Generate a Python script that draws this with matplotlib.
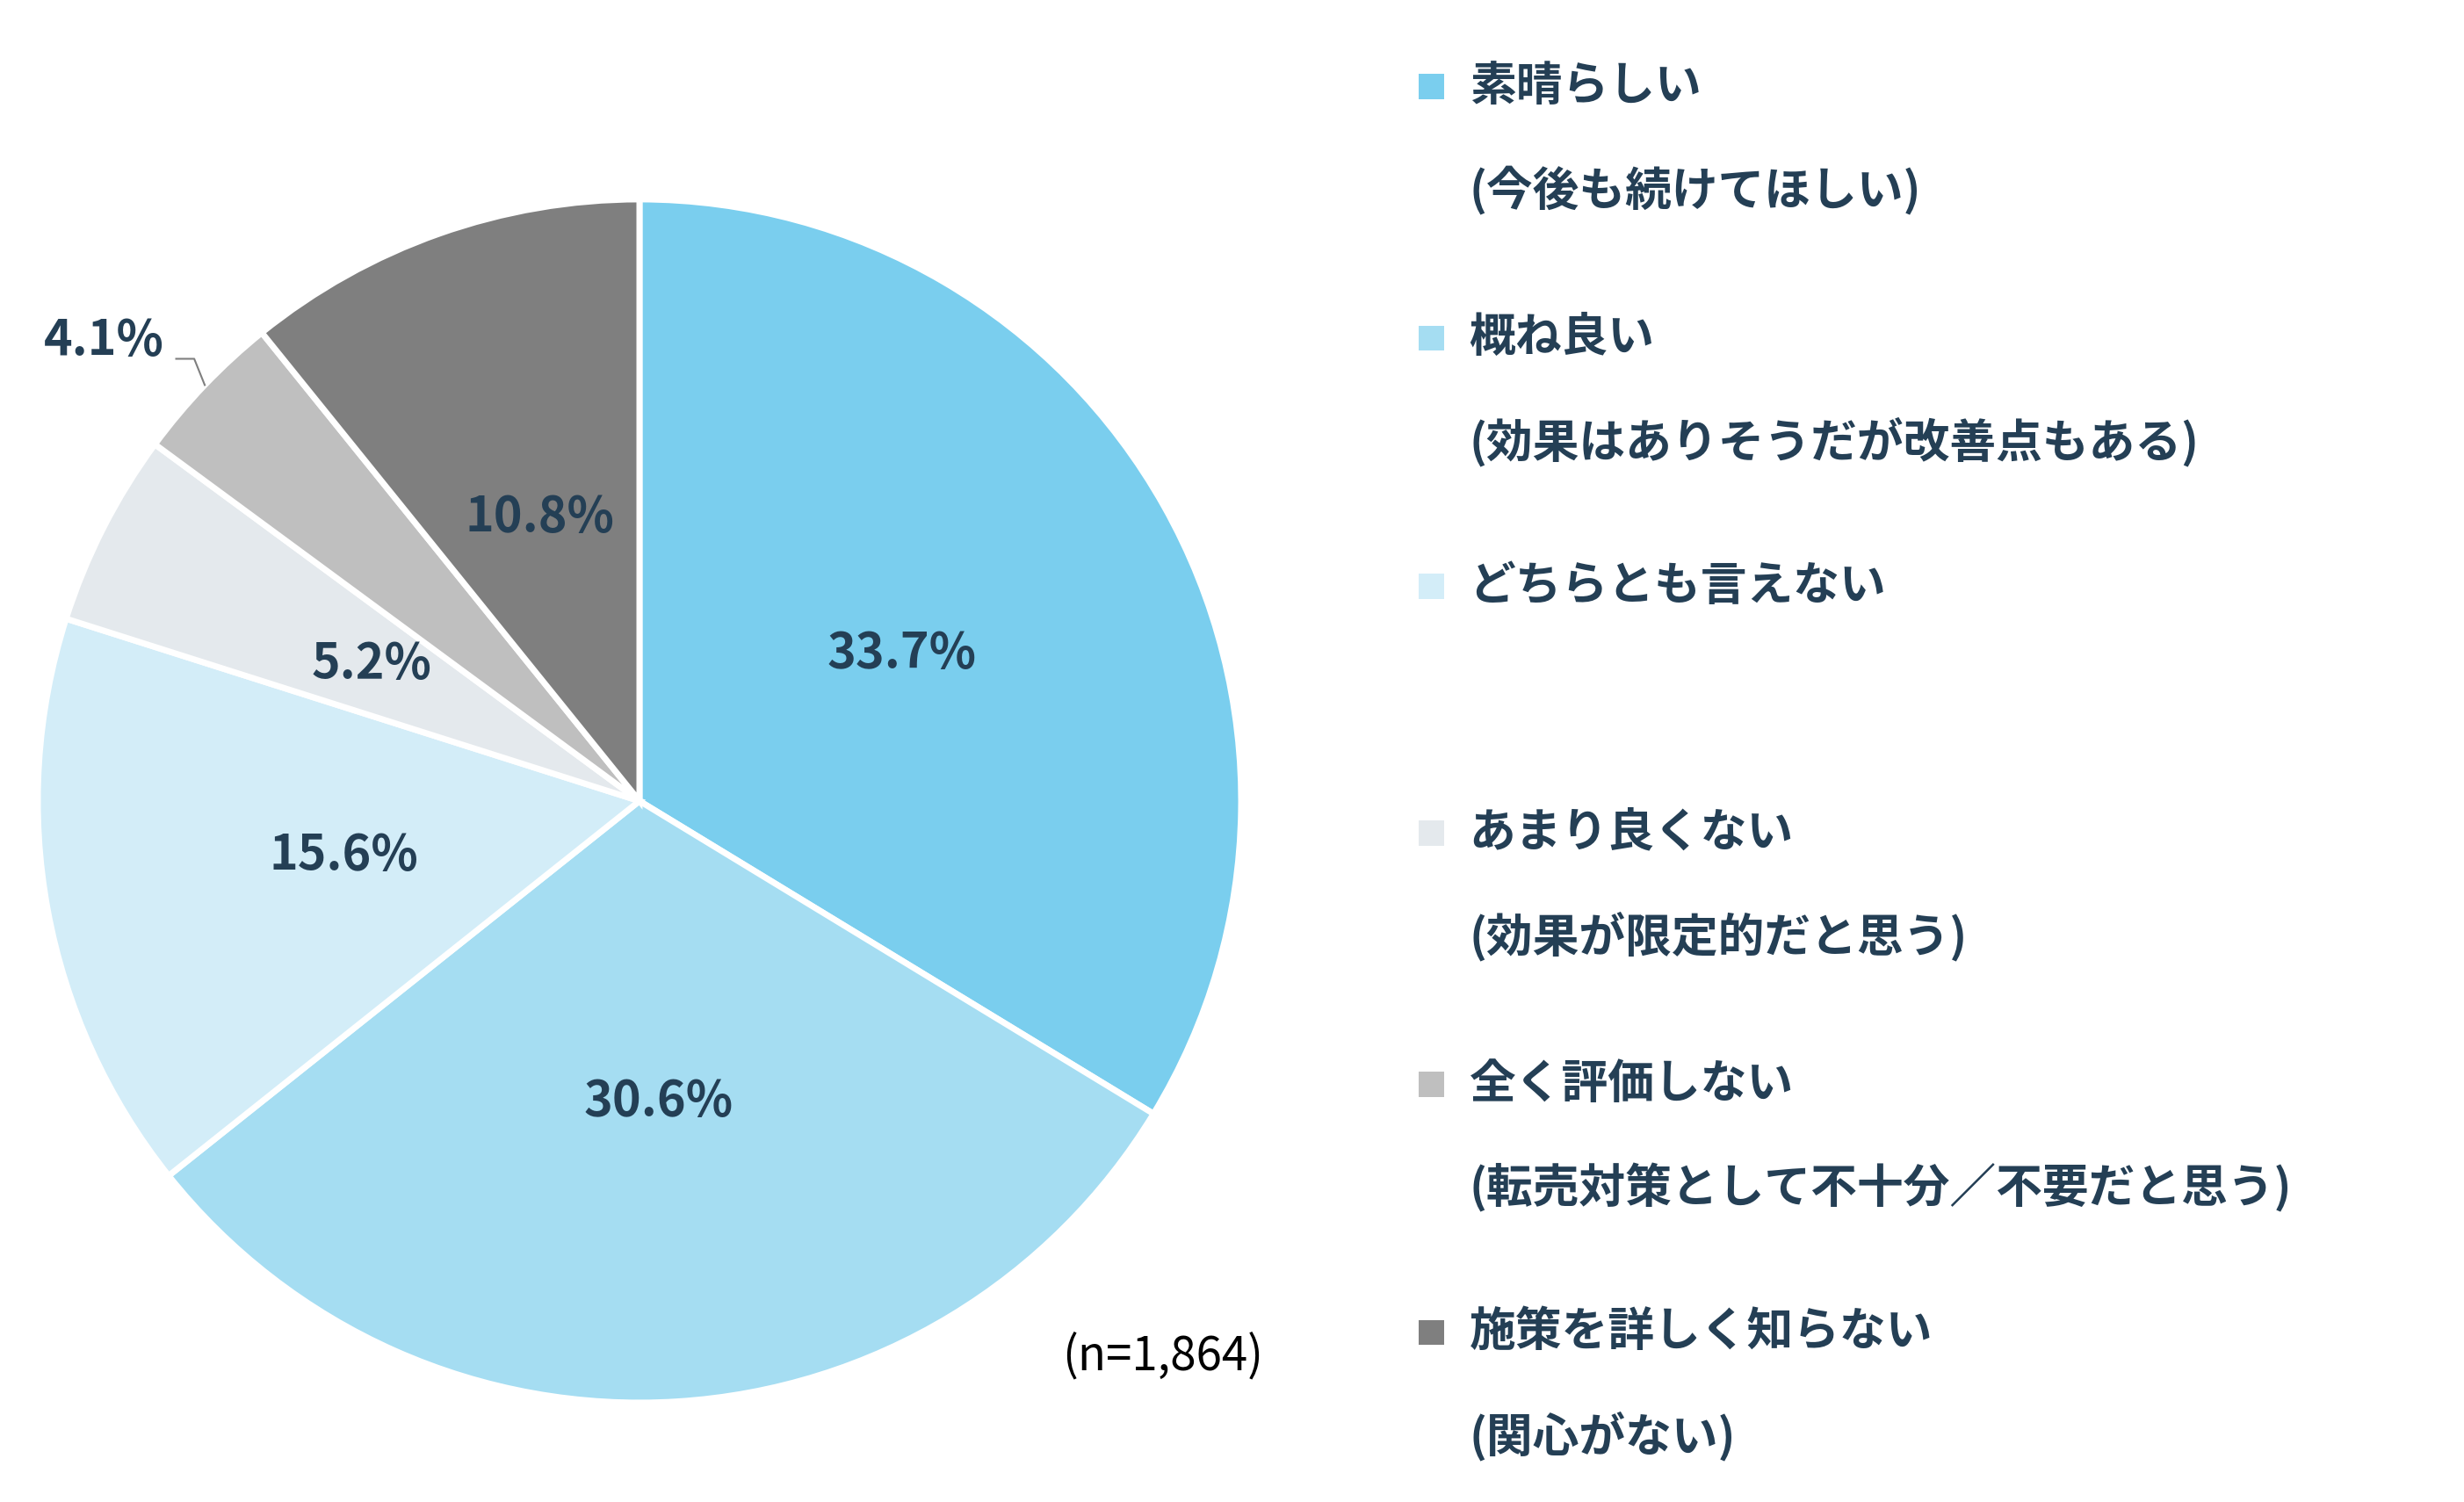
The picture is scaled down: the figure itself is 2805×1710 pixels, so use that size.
import matplotlib
matplotlib.use("Agg")
import matplotlib.pyplot as plt
from matplotlib.patches import Rectangle

plt.rcParams['font.family'] = 'Noto Sans CJK JP'

# data
labels = ['素晴らしい\n(今後も続けてほしい)',
          '概ね良い\n(効果はありそうだが改善点もある)',
          'どちらとも言えない',
          'あまり良くない\n(効果が限定的だと思う)',
          '全く評価しない\n(転売対策として不十分／不要だと思う)',
          '施策を詳しく知らない\n(関心がない)']
values = [33.7, 30.6, 15.6, 5.2, 4.1, 10.8]
colors = ['#7ACEEE', '#A5DDF2', '#D3EDF8', '#E4E9ED', '#BFBFBF', '#7F7F7F']
note = '(n=1,864)'

text_color = '#243F55'

fig = plt.figure(figsize=(28.05, 17.1), dpi=100)
ax = fig.add_axes([0.01533, 0.0661, 0.4884, 0.8012])

wedges, _ = ax.pie(values, colors=colors, startangle=90, counterclock=False,
                   radius=1, wedgeprops=dict(edgecolor='white', linewidth=5))

# percentage labels
import numpy as np
for w, v in zip(wedges, values):
    mid = np.deg2rad((w.theta1 + w.theta2) / 2)
    if v < 5:
        ex, ey = np.cos(mid), np.sin(mid)
        ax.plot([ex, -0.74, -0.77], [ey, 0.735, 0.735], color='#7F7F7F', lw=1.5)
        ax.text(-0.79, 0.765, f'{v}%', ha='right', va='center', fontsize=40,
                fontweight='bold', color=text_color)
    else:
        ax.text(0.5 * np.cos(mid), 0.5 * np.sin(mid), f'{v}%', ha='center', va='center',
                fontsize=40, fontweight='bold', color=text_color)

ax.set_xlim(-1, 1)
ax.set_ylim(-1, 1)
ax.set_aspect('equal')
ax.axis('off')

fig.text(0.472, 0.097, note, fontsize=38, color='black', ha='center', va='center')

# legend
line_y = [55, 215, 373, 530, 690, 848]
for lab, c, y in zip(labels, colors, line_y):
    yf = 1 - y / 956
    fig.patches.append(Rectangle((903 / 1568, yf - 0.0085), 0.0102, 0.0167,
                                 transform=fig.transFigure, facecolor=c, edgecolor='none'))
    for i, part in enumerate(lab.split('\n')):
        fig.text(0.5963, 1 - (y + i * 66) / 956, part, fontsize=38, fontweight='bold',
                 color=text_color, ha='left', va='center')

fig.savefig('out.png', dpi=100)
